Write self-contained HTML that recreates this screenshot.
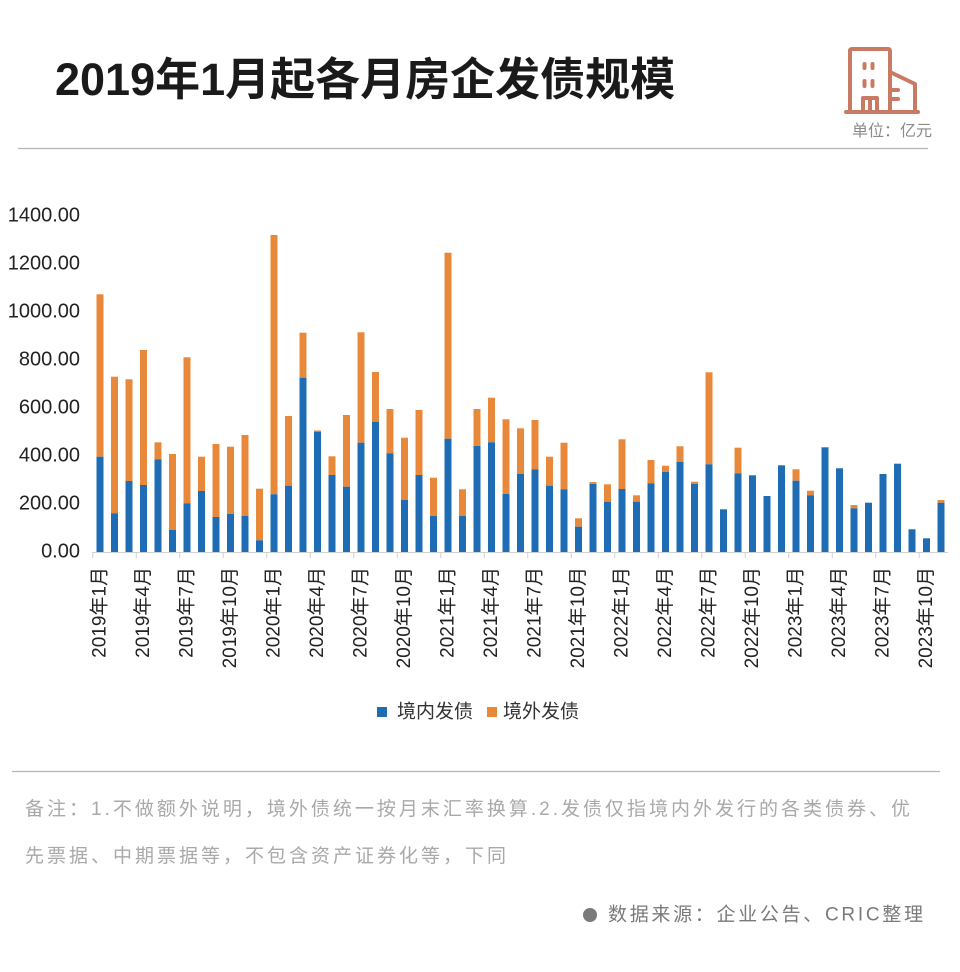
<!DOCTYPE html>
<html>
<head>
<meta charset="utf-8">
<style>
  html,body{margin:0;padding:0;background:#fff;}
  body{width:960px;height:972px;position:relative;overflow:hidden;font-family:"Liberation Sans","Noto Sans CJK SC",sans-serif;}
  .note{position:absolute;left:25px;font-size:19px;letter-spacing:3px;color:#a9a9a9;white-space:nowrap;line-height:24px;}
</style>
</head>
<body>
<svg width="960" height="972" viewBox="0 0 960 972" xmlns="http://www.w3.org/2000/svg" style="position:absolute;left:0;top:0;font-family:'Liberation Sans','Noto Sans CJK SC',sans-serif;">
  <!-- Title -->
  <text x="55" y="95" font-size="45" font-weight="bold" fill="#1a1a1a">2019年1月起各月房企发债规模</text>
  <!-- Icon -->
  <g fill="none" stroke="#c97a62" stroke-width="4" stroke-linecap="round" stroke-linejoin="round">
    <path d="M850,112 V51 Q850,49 852,49 H888 Q890,49 890,51 V112"/>
    <path d="M890,72 L915,84 V112"/>
    <path d="M846,112 H918"/>
    <path d="M864.5,64 V68 M872.5,64 V68 M864.5,81 V86 M872.5,81 V86"/>
    <path d="M863,112 V98 H877 V112 M870,98 V112"/>
    <path d="M890,90 H898 M890,99 H898"/>
  </g>
  <text x="852" y="136" font-size="16" fill="#8a8a8a">单位：亿元</text>
  <line x1="18" y1="148.5" x2="928" y2="148.5" stroke="#b5b5b5" stroke-width="1.2"/>

  <!-- Y axis labels -->
  <g font-size="20" fill="#222" text-anchor="end" dominant-baseline="central">
    <text x="80" y="551.7">0.00</text>
    <text x="80" y="503.7">200.00</text>
    <text x="80" y="455.7">400.00</text>
    <text x="80" y="407.7">600.00</text>
    <text x="80" y="359.7">800.00</text>
    <text x="80" y="311.7">1000.00</text>
    <text x="80" y="263.7">1200.00</text>
    <text x="80" y="215.7">1400.00</text>
  </g>

  <!-- Bars: orange (total) -->
  <g fill="#e8883a">
    <rect x="96.5" y="294.3" width="7" height="162.4"/>
    <rect x="111" y="376.7" width="7" height="136.6"/>
    <rect x="125.5" y="379.3" width="7" height="101.7"/>
    <rect x="140" y="350" width="7" height="135"/>
    <rect x="154.5" y="442.3" width="7" height="17"/>
    <rect x="169" y="454" width="7" height="76"/>
    <rect x="183.5" y="357.3" width="7" height="146"/>
    <rect x="198" y="456.7" width="7" height="34.3"/>
    <rect x="212.5" y="444" width="7" height="73"/>
    <rect x="227" y="446.7" width="7" height="67.3"/>
    <rect x="241.5" y="435" width="7" height="81"/>
    <rect x="256" y="488.7" width="7" height="51.6"/>
    <rect x="270.5" y="235" width="7" height="259.3"/>
    <rect x="285" y="416" width="7" height="69.7"/>
    <rect x="299.5" y="332.7" width="7" height="45"/>
    <rect x="314" y="430.5" width="7" height="1.2"/>
    <rect x="328.5" y="456.3" width="7" height="18.7"/>
    <rect x="343" y="415" width="7" height="71.7"/>
    <rect x="357.5" y="332.3" width="7" height="110.4"/>
    <rect x="372" y="372" width="7" height="49.7"/>
    <rect x="386.5" y="409" width="7" height="44.3"/>
    <rect x="401" y="437.7" width="7" height="62.3"/>
    <rect x="415.5" y="410" width="7" height="65"/>
    <rect x="430" y="477.7" width="7" height="38.3"/>
    <rect x="444.5" y="252.7" width="7" height="186"/>
    <rect x="459" y="489.3" width="7" height="26.7"/>
    <rect x="473.5" y="409" width="7" height="37"/>
    <rect x="488" y="397.7" width="7" height="44.6"/>
    <rect x="502.5" y="419.3" width="7" height="74.7"/>
    <rect x="517" y="428.3" width="7" height="45.7"/>
    <rect x="531.5" y="420" width="7" height="49.3"/>
    <rect x="546" y="456.7" width="7" height="29"/>
    <rect x="560.5" y="442.7" width="7" height="46.6"/>
    <rect x="575" y="518.3" width="7" height="8.4"/>
    <rect x="589.5" y="482" width="7" height="2"/>
    <rect x="604" y="484.3" width="7" height="17.4"/>
    <rect x="618.5" y="439.3" width="7" height="49.7"/>
    <rect x="633" y="495.3" width="7" height="6.4"/>
    <rect x="647.5" y="460" width="7" height="23.3"/>
    <rect x="662" y="465.7" width="7" height="6.3"/>
    <rect x="676.5" y="446.3" width="7" height="15.7"/>
    <rect x="691" y="481.7" width="7" height="2.3"/>
    <rect x="705.5" y="372.3" width="7" height="92"/>
    <rect x="734.5" y="447.7" width="7" height="25.6"/>
    <rect x="792.5" y="469.3" width="7" height="11.4"/>
    <rect x="807" y="490.7" width="7" height="4.6"/>
    <rect x="850.5" y="505" width="7" height="3.3"/>
    <rect x="937.5" y="500" width="7" height="2.7"/>
  </g>
  <!-- Bars: blue -->
  <g fill="#1d6cb4">
    <rect x="96.5" y="456.7" width="7" height="95.3"/>
    <rect x="111" y="513.3" width="7" height="38.7"/>
    <rect x="125.5" y="481" width="7" height="71"/>
    <rect x="140" y="485" width="7" height="67"/>
    <rect x="154.5" y="459.3" width="7" height="92.7"/>
    <rect x="169" y="530" width="7" height="22"/>
    <rect x="183.5" y="503.3" width="7" height="48.7"/>
    <rect x="198" y="491" width="7" height="61"/>
    <rect x="212.5" y="517" width="7" height="35"/>
    <rect x="227" y="514" width="7" height="38"/>
    <rect x="241.5" y="516" width="7" height="36"/>
    <rect x="256" y="540.3" width="7" height="11.7"/>
    <rect x="270.5" y="494.3" width="7" height="57.7"/>
    <rect x="285" y="485.7" width="7" height="66.3"/>
    <rect x="299.5" y="377.7" width="7" height="174.3"/>
    <rect x="314" y="431.7" width="7" height="120.3"/>
    <rect x="328.5" y="475" width="7" height="77"/>
    <rect x="343" y="486.7" width="7" height="65.3"/>
    <rect x="357.5" y="442.7" width="7" height="109.3"/>
    <rect x="372" y="421.7" width="7" height="130.3"/>
    <rect x="386.5" y="453.3" width="7" height="98.7"/>
    <rect x="401" y="500" width="7" height="52"/>
    <rect x="415.5" y="475" width="7" height="77"/>
    <rect x="430" y="516" width="7" height="36"/>
    <rect x="444.5" y="438.7" width="7" height="113.3"/>
    <rect x="459" y="516" width="7" height="36"/>
    <rect x="473.5" y="446" width="7" height="106"/>
    <rect x="488" y="442.3" width="7" height="109.7"/>
    <rect x="502.5" y="494" width="7" height="58"/>
    <rect x="517" y="474" width="7" height="78"/>
    <rect x="531.5" y="469.3" width="7" height="82.7"/>
    <rect x="546" y="485.7" width="7" height="66.3"/>
    <rect x="560.5" y="489.3" width="7" height="62.7"/>
    <rect x="575" y="526.7" width="7" height="25.3"/>
    <rect x="589.5" y="484" width="7" height="68"/>
    <rect x="604" y="501.7" width="7" height="50.3"/>
    <rect x="618.5" y="489" width="7" height="63"/>
    <rect x="633" y="501.7" width="7" height="50.3"/>
    <rect x="647.5" y="483.3" width="7" height="68.7"/>
    <rect x="662" y="472" width="7" height="80"/>
    <rect x="676.5" y="462" width="7" height="90"/>
    <rect x="691" y="484" width="7" height="68"/>
    <rect x="705.5" y="464.3" width="7" height="87.7"/>
    <rect x="720" y="509.3" width="7" height="42.7"/>
    <rect x="734.5" y="473.3" width="7" height="78.7"/>
    <rect x="749" y="475.3" width="7" height="76.7"/>
    <rect x="763.5" y="496" width="7" height="56"/>
    <rect x="778" y="465.3" width="7" height="86.7"/>
    <rect x="792.5" y="480.7" width="7" height="71.3"/>
    <rect x="807" y="495.3" width="7" height="56.7"/>
    <rect x="821.5" y="447.3" width="7" height="104.7"/>
    <rect x="836" y="468.3" width="7" height="83.7"/>
    <rect x="850.5" y="508.3" width="7" height="43.7"/>
    <rect x="865" y="502.7" width="7" height="49.3"/>
    <rect x="879.5" y="474" width="7" height="78"/>
    <rect x="894" y="463.7" width="7" height="88.3"/>
    <rect x="908.5" y="529.3" width="7" height="22.7"/>
    <rect x="923" y="538.3" width="7" height="13.7"/>
    <rect x="937.5" y="502.7" width="7" height="49.3"/>
  </g>

  <!-- X axis -->
  <line x1="92.5" y1="552.5" x2="948" y2="552.5" stroke="#d0d0d0" stroke-width="1"/>
  <g stroke="#d0d0d0" stroke-width="1">
    <line x1="92.75" y1="552" x2="92.75" y2="558"/>
    <line x1="136.25" y1="552" x2="136.25" y2="558"/>
    <line x1="179.75" y1="552" x2="179.75" y2="558"/>
    <line x1="223.25" y1="552" x2="223.25" y2="558"/>
    <line x1="266.75" y1="552" x2="266.75" y2="558"/>
    <line x1="310.25" y1="552" x2="310.25" y2="558"/>
    <line x1="353.75" y1="552" x2="353.75" y2="558"/>
    <line x1="397.25" y1="552" x2="397.25" y2="558"/>
    <line x1="440.75" y1="552" x2="440.75" y2="558"/>
    <line x1="484.25" y1="552" x2="484.25" y2="558"/>
    <line x1="527.75" y1="552" x2="527.75" y2="558"/>
    <line x1="571.25" y1="552" x2="571.25" y2="558"/>
    <line x1="614.75" y1="552" x2="614.75" y2="558"/>
    <line x1="658.25" y1="552" x2="658.25" y2="558"/>
    <line x1="701.75" y1="552" x2="701.75" y2="558"/>
    <line x1="745.25" y1="552" x2="745.25" y2="558"/>
    <line x1="788.75" y1="552" x2="788.75" y2="558"/>
    <line x1="832.25" y1="552" x2="832.25" y2="558"/>
    <line x1="875.75" y1="552" x2="875.75" y2="558"/>
    <line x1="919.25" y1="552" x2="919.25" y2="558"/>
  </g>

  <!-- X labels -->
  <g font-size="19" fill="#222" text-anchor="end" dominant-baseline="central">
    <text transform="translate(100,567) rotate(-90)">2019年1月</text>
    <text transform="translate(143.5,567) rotate(-90)">2019年4月</text>
    <text transform="translate(187,567) rotate(-90)">2019年7月</text>
    <text transform="translate(230.5,567) rotate(-90)">2019年10月</text>
    <text transform="translate(274,567) rotate(-90)">2020年1月</text>
    <text transform="translate(317.5,567) rotate(-90)">2020年4月</text>
    <text transform="translate(361,567) rotate(-90)">2020年7月</text>
    <text transform="translate(404.5,567) rotate(-90)">2020年10月</text>
    <text transform="translate(448,567) rotate(-90)">2021年1月</text>
    <text transform="translate(491.5,567) rotate(-90)">2021年4月</text>
    <text transform="translate(535,567) rotate(-90)">2021年7月</text>
    <text transform="translate(578.5,567) rotate(-90)">2021年10月</text>
    <text transform="translate(622,567) rotate(-90)">2022年1月</text>
    <text transform="translate(665.5,567) rotate(-90)">2022年4月</text>
    <text transform="translate(709,567) rotate(-90)">2022年7月</text>
    <text transform="translate(752.5,567) rotate(-90)">2022年10月</text>
    <text transform="translate(796,567) rotate(-90)">2023年1月</text>
    <text transform="translate(839.5,567) rotate(-90)">2023年4月</text>
    <text transform="translate(883,567) rotate(-90)">2023年7月</text>
    <text transform="translate(926.5,567) rotate(-90)">2023年10月</text>
  </g>

  <!-- Legend -->
  <rect x="377" y="707" width="10" height="10" fill="#1d6cb4"/>
  <text x="397" y="712" font-size="19" fill="#333" dominant-baseline="central">境内发债</text>
  <rect x="487" y="707" width="10" height="10" fill="#e8883a"/>
  <text x="503" y="712" font-size="19" fill="#333" dominant-baseline="central">境外发债</text>

  <!-- Bottom divider -->
  <line x1="12" y1="771.5" x2="940" y2="771.5" stroke="#b5b5b5" stroke-width="1.2"/>

  <!-- Source -->
  <circle cx="590" cy="915" r="7" fill="#7a7a7a"/>
  <text x="608" y="915" font-size="19" letter-spacing="2.7" fill="#7a7a7a" dominant-baseline="central">数据来源：企业公告、CRIC整理</text>
</svg>

<div class="note" style="top:798px;width:885px;text-align:justify;text-align-last:justify;">备注：1.不做额外说明，境外债统一按月末汇率换算.2.发债仅指境内外发行的各类债券、优</div>
<div class="note" style="top:845px;">先票据、中期票据等，不包含资产证券化等，下同</div>
</body>
</html>
